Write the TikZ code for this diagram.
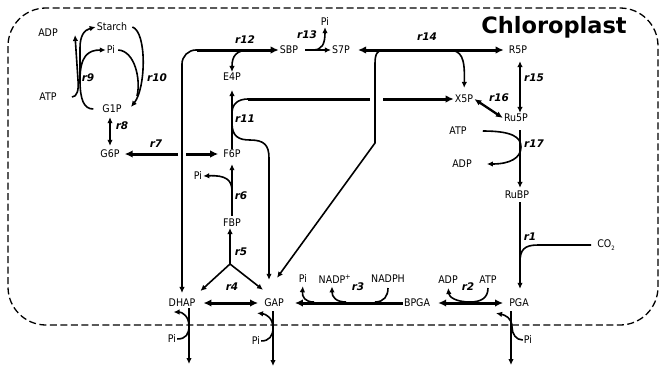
\documentclass[tikz,border=0pt]{standalone}
\usepackage{fontspec}
\setmainfont{DejaVu Sans}
\newfontfamily\condfont{DejaVu Sans Condensed}
\usetikzlibrary{arrows.meta, calc}
\newcommand{\metfont}{\condfont\fontsize{10.5}{12}\selectfont}
\newcommand{\rxnfont}{\bfseries\itshape\fontsize{10.5}{12}\selectfont}
\tikzset{
  met/.style={font=\metfont, inner sep=1pt},
  rxn/.style={font=\rxnfont, inner sep=0pt},
  title/.style={font=\bfseries\fontsize{22.5}{26}\selectfont, inner sep=0pt},
  membrane/.style={dash pattern=on 7pt off 3.5pt, line width=1.3pt, rounded corners=38pt},
  link/.style={line width=1.6pt},
  flux/.style={link, -{Latex[length=6pt,width=5.5pt]}},
  fluxboth/.style={link, {Latex[length=6pt,width=5.5pt]}-{Latex[length=6pt,width=5.5pt]}},
  midboth/.style={line width=2.3pt, {Latex[length=7pt,width=6pt]}-{Latex[length=7pt,width=6pt]}},
  biglink/.style={line width=3pt},
  bigflux/.style={biglink, -{Latex[length=8pt,width=7.5pt]}},
  bigboth/.style={biglink, {Latex[length=8pt,width=7.5pt]}-{Latex[length=8pt,width=7.5pt]}},
}

\begin{document}
\begin{tikzpicture}[x=1pt, y=-1pt]
  \useasboundingbox (0,0) rectangle (659,367);

  % chloroplast membrane
  \draw[membrane] (8,8) rectangle (658,325);
  \node[title, anchor=base] (chl) at (554,33) {Chloroplast};

  % metabolites
  \node[met] (starch) at (112,27) {Starch};
  \node[met] (piA)    at (111,50) {Pi};
  \node[met] (adpA)   at (48,33)  {ADP};
  \node[met] (atpA)   at (48,97)  {ATP};
  \node[met] (g1p)    at (112,109) {G1P};
  \node[met] (g6p)    at (110,154) {G6P};
  \node[met] (f6p)    at (232,154) {F6P};
  \node[met] (e4p)    at (232,77)  {E4P};
  \node[met] (sbp)    at (289,50)  {SBP};
  \node[met] (s7p)    at (341,50)  {S7P};
  \node[met] (piB)    at (325,22)  {Pi};
  \node[met] (r5p)    at (518,50)  {R5P};
  \node[met] (x5p)    at (464,99)  {X5P};
  \node[met] (ru5p)   at (516,118) {Ru5P};
  \node[met] (atpB)   at (458,131) {ATP};
  \node[met] (adpB)   at (462,164) {ADP};
  \node[met] (rubp)   at (517,195) {RuBP};
  \node[met] (co2)    at (606,245) {CO{\fontsize{6}{6}\selectfont\raisebox{-2.5pt}{2}}};
  \node[met] (pga)    at (519,303) {PGA};
  \node[met] (atpC)   at (488,280) {ATP};
  \node[met] (adpC)   at (448,280) {ADP};
  \node[met] (bpga)   at (417,303) {BPGA};
  \node[met] (nadph)  at (388,279) {NADPH};
  \node[met] (nadp)   at (335,279) {NADP\textsuperscript{+}};
  \node[met] (piC)    at (303,279) {Pi};
  \node[met] (gap)    at (274,303) {GAP};
  \node[met] (dhap)   at (182,303) {DHAP};
  \node[met] (fbp)    at (232,223) {FBP};
  \node[met] (piD)    at (198,176) {Pi};
  \node[met] (piE)    at (172,339) {Pi};
  \node[met] (piF)    at (256,341) {Pi};
  \node[met] (piG)    at (528,340) {Pi};

  % reaction labels
  \node[rxn] (r1)  at (530,237) {r1};
  \node[rxn] (r2)  at (468,287) {r2};
  \node[rxn] (r3)  at (358,287) {r3};
  \node[rxn] (r4)  at (232,287) {r4};
  \node[rxn] (r5)  at (241,252) {r5};
  \node[rxn] (r6)  at (241,196) {r6};
  \node[rxn] (r7)  at (156,144) {r7};
  \node[rxn] (r8)  at (122,126) {r8};
  \node[rxn] (r9)  at (88,78)   {r9};
  \node[rxn] (r10) at (157,78)  {r10};
  \node[rxn] (r11) at (245,119) {r11};
  \node[rxn] (r12) at (245,40)  {r12};
  \node[rxn] (r13) at (307,35)  {r13};
  \node[rxn] (r14) at (427,37)  {r14};
  \node[rxn] (r15) at (534,78)  {r15};
  \node[rxn] (r16) at (499,98)  {r16};
  \node[rxn] (r17) at (534,144) {r17};

  % junctions and free ends
  \coordinate (col) at (520,0);
  \coordinate (j9)  at (80,80);
  \coordinate (s9)  at (72,97);
  \coordinate (t9)  at (75,35);
  \coordinate (m10) at (137,96);
  \coordinate (g7a) at (178,154);
  \coordinate (g7b) at (186,154);
  \coordinate (c12) at (197,50);
  \coordinate (b12) at (250,50);
  \coordinate (b13) at (313,50);
  \coordinate (b14) at (448,50);
  \coordinate (c14) at (384,50);
  \coordinate (k14) at (375,143);
  \coordinate (jx11) at (232,113);
  \coordinate (jg11) at (232,123);
  \coordinate (ex11) at (248,99);
  \coordinate (gl11) at (370,99);
  \coordinate (gr11) at (383,99);
  \coordinate (j6)  at (232,191);
  \coordinate (j5)  at (230,264);
  \coordinate (m3a) at (375,302);
  \coordinate (m3b) at (346,302);
  \coordinate (m3c) at (314,302);
  \coordinate (outD) at (189,364);
  \coordinate (outG) at (273,366);
  \coordinate (outP) at (511,365);

  % r9, r10: starch
  \draw[link] ([xshift=-8pt]g1p.west) .. controls (84,109) and (80,100) .. (j9);
  \draw[flux] (j9) .. controls (80,56) and (88,50) .. (piA.west);
  \draw[flux] (j9) -- (80,48) .. controls (80,36) and (84,30) .. (starch.west);
  \draw[flux] (s9) .. controls (77,97) and (79,90) .. (78,80) -- (t9);
  \draw[flux] ([xshift=4pt]starch.east) .. controls (147,32) and (146,88) .. (131,107);
  \draw[link] ([xshift=2pt]piA.east) .. controls (135,51) and (141,80) .. (m10);

  % r8, r7
  \draw[fluxboth, shorten <=3pt, shorten >=3pt] (g1p.south -| g6p) -- (g6p.north);
  \draw[bigflux, shorten >=4pt] (g7a) -- (g6p.east);
  \draw[bigflux, shorten >=4pt] (g7b) -- (f6p.west);

  % r12, r13
  \draw[flux, rounded corners=14pt, shorten >=5pt] (c12) -| (dhap.north);
  \draw[bigflux] (c12) -- (sbp.west);
  \draw[flux] (b12) .. controls (236,50) and (232,56) .. (e4p.north);
  \draw[flux, shorten <=6pt] (sbp.east) -- (s7p.west);
  \draw[flux] (b13) .. controls (322,50) and (325,44) .. (piB.south);

  % r14
  \draw[bigboth, shorten <=7pt, shorten >=4pt] (s7p.east) -- (r5p.west);
  \draw[flux, shorten >=6pt] (b14) .. controls (462,50) and (465,58) .. (x5p.north);
  \draw[flux] (c14) .. controls (377,50) and (375,54) .. (375,64) -- (k14)
    -- ([shift={(3,-20)}]gap.north);

  % r11
  \draw[flux, shorten >=8pt] (f6p.north) -- (e4p.south);
  \draw[link] (jx11) .. controls (232,104) and (238,99) .. (ex11);
  \draw[biglink] (ex11) -- (gl11);
  \draw[bigflux] (gr11) -- (x5p.west);
  \draw[flux] (jg11) .. controls (232,136) and (238,140) .. (250,140)
    .. controls (264,140) and (269,145) .. (269,158) -- ([shift={(-5,-18)}]gap.north);

  % r15, r16, r17
  \draw[fluxboth, shorten <=6pt] (r5p.south -| col) -- (ru5p.north -| col);
  \draw[midboth] (x5p.east) -- (ru5p.west);
  \draw[flux, shorten <=7pt, shorten >=2pt] (ru5p.south -| col) -- (rubp.north -| col);
  \draw[flux, shorten <=15pt, shorten >=14pt] (atpB.east) .. controls (512,131) and (521,137) .. (521,147)
    .. controls (521,158) and (510,164) .. (adpB.east);

  % r1
  \draw[flux, shorten <=2pt, shorten >=9pt] (rubp.south -| col) -- (pga.north -| col);
  \draw[link, shorten <=5pt] (co2.west) -- (538,245) .. controls (524,245) and (520,250) .. (520,262);

  % r2, r3
  \draw[bigboth, shorten <=7pt, shorten >=5pt] (bpga.east) -- (pga.west);
  \draw[flux, shorten <=3pt, shorten >=3pt] (atpC.south) .. controls (488,298) and (481,302) .. (470,302)
    .. controls (456,302) and (449,297) .. (adpC.south);
  \draw[bigflux, shorten >=10pt] (bpga.west) -- (gap.east);
  \draw[link, shorten <=4pt] (nadph.south) .. controls (388,296) and (384,302) .. (m3a);
  \draw[flux, shorten >=2pt] (m3b) .. controls (336,302) and (332,297) .. ([xshift=-3pt]nadp.south);
  \draw[flux, shorten >=2pt] (m3c) .. controls (305,302) and (302,297) .. (piC.south);

  % r4, r5, r6
  \draw[bigboth, shorten <=7pt, shorten >=5pt] (dhap.east) -- (gap.west);
  \draw[flux] (j5) -- (j5 |- fbp.south);
  \draw[flux] (j5) -- ([shift={(4,-7)}]dhap.north east);
  \draw[flux] (j5) -- ([shift={(-11,-8)}]gap.north);
  \draw[flux, shorten <=2pt, shorten >=5pt] (fbp.north) -- (f6p.south);
  \draw[flux] (j6) .. controls (232,180) and (226,175) .. (piD.east);

  % transport across the envelope
  \draw[flux] (dhap.south -| outD) -- (outD);
  \draw[flux] (piE.east) .. controls (186,339) and (189,334) .. (189,326)
    .. controls (189,316) and (182,312) .. ([shift={(6,4)}]dhap.south west);
  \draw[flux, shorten <=3pt] (gap.south -| outG) -- (outG);
  \draw[flux] (piF.east) .. controls (269,341) and (273,336) .. (273,328)
    .. controls (273,318) and (266,314) .. ([shift={(-6,5)}]gap.south west);
  \draw[flux, shorten <=3pt] (pga.south -| outP) -- (outP);
  \draw[flux] (piG.west) .. controls (516,340) and (512,334) .. (512,327)
    .. controls (512,318) and (505,315) .. ([shift={(-12,5)}]pga.south west);
\end{tikzpicture}
\end{document}
